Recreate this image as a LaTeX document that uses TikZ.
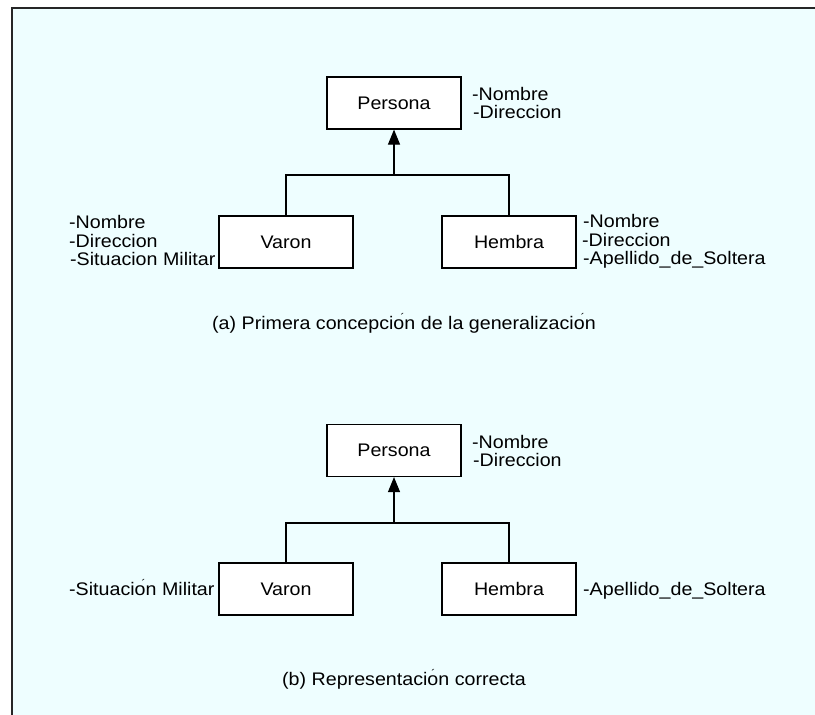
\documentclass[tikz,border=0pt]{standalone}
\usepackage{fontspec}
\setmainfont{Liberation Sans}[FakeStretch=1.08]
\usetikzlibrary{arrows.meta}
\definecolor{panel}{HTML}{EEFEFF}
% an "o" carrying a loose acute accent set slightly to its right
\newcommand\ostray[1][0pt]{o\llap{\raisebox{8pt}{\fontsize{11}{11}\selectfont ´}\kern#1}}
\tikzset{
  cls/.style={draw, line width=1.2pt, fill=white, minimum width=134pt,
              minimum height=52pt, inner sep=0pt},
  attr/.style={anchor=base west, inner sep=0pt},
  caption/.style={anchor=base west, inner sep=0pt},
  link/.style={line width=1.2pt},
  gen/.style={line width=1.2pt, -{Triangle[width=12pt,length=15pt]}},
}
\begin{document}
\begin{tikzpicture}[x=1pt,y=-1pt,font=\fontsize{18.2}{20}\selectfont]
\useasboundingbox (0,0) rectangle (815,715);
\fill[white] (0,0) rectangle (815,715);
\fill[panel] (12,8) rectangle (815,715);
\draw[line width=1.6pt, black!85] (12,715) -- (12,8) -- (815,8);

% ---------- (a) first design ----------
\node[cls] (personaA) at (394,103) {Persona};
\node[cls] (varonA)   at (286,242) {Varon};
\node[cls] (hembraA)  at (509,242) {Hembra};
\coordinate (jA) at (394,175);
\draw[link] (varonA.north) |- (jA) -| (hembraA.north);
\draw[gen] (jA) -- (personaA.south);

\node[attr] (pa1) at (472,100) {-Nombre};
\node[attr] (pa2) at (473,118) {-Direccion};
\node[attr] (la1) at (69,228) {-Nombre};
\node[attr] (la2) at (69,247) {-Direccion};
\node[attr] (la3) at (70,265) {-Situacion Militar};
\node[attr] (ra1) at (583,227) {-Nombre};
\node[attr] (ra2) at (582,246) {-Direccion};
\node[attr] (ra3) at (583,264) {-Apellido\_de\_Soltera};
\node[caption] (capA) at (212,329)
  {(a) Primera concepci\ostray n de la generalizaci\ostray n};

% ---------- (b) corrected design ----------
\node[cls] (personaB) at (394,450.5) {Persona};
\node[cls] (varonB)   at (286,589) {Varon};
\node[cls] (hembraB)  at (509,589) {Hembra};
\coordinate (jB) at (394,523);
\draw[link] (varonB.north) |- (jB) -| (hembraB.north);
\draw[gen] (jB) -- (personaB.south);

\node[attr] (pb1) at (472,448) {-Nombre};
\node[attr] (pb2) at (473,466) {-Direccion};
\node[attr] (lb1) at (69,595) {-Situaci\ostray n Militar};
\node[attr] (rb1) at (583,595) {-Apellido\_de\_Soltera};
\node[caption] (capB) at (282,685) {(b) Representaci\ostray[3pt]n correcta};
\end{tikzpicture}
\end{document}
